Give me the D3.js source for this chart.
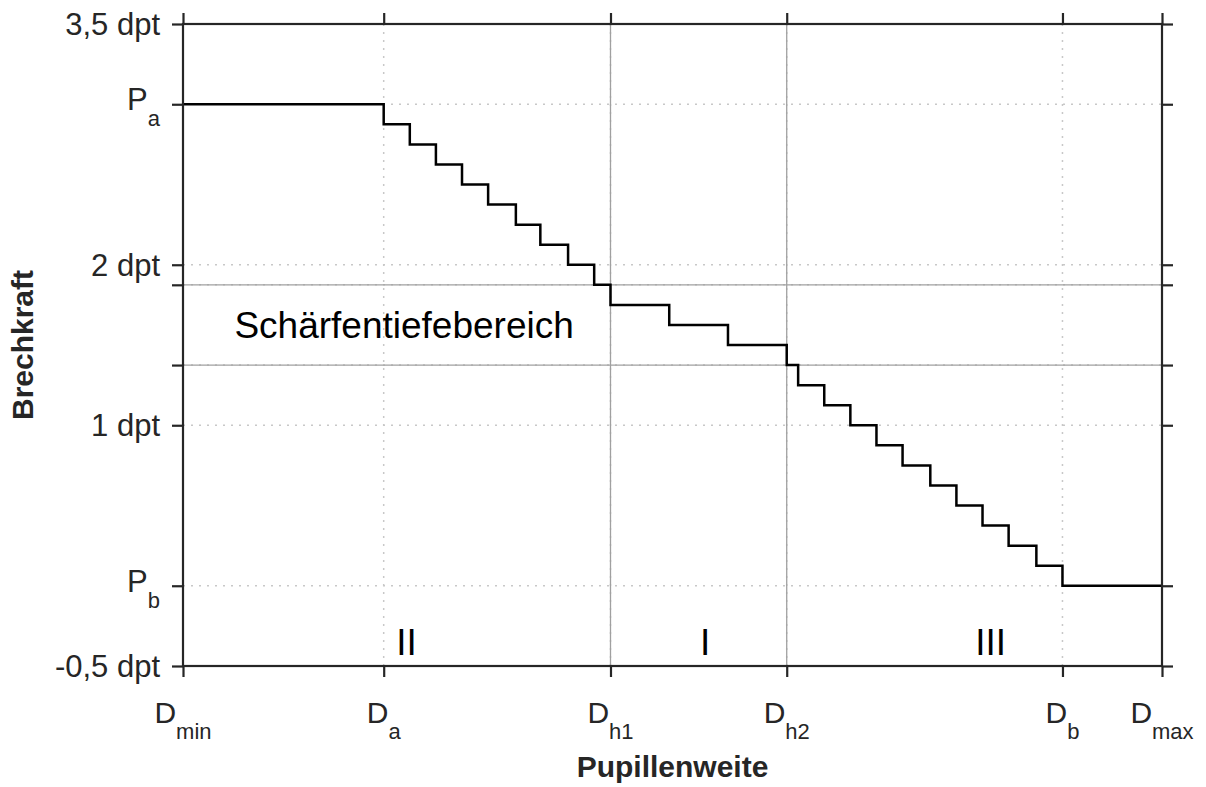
<!DOCTYPE html>
<html>
<head>
<meta charset="utf-8">
<script src="https://cdn.jsdelivr.net/npm/d3@7"></script>
<style>
  html, body { margin: 0; padding: 0; background: #ffffff; }
  svg { display: block; font-family: "Liberation Sans", Arial, Helvetica, sans-serif; }
</style>
</head>
<body>
<svg id="chart" width="1206" height="787"></svg>
<script>
// Pupil diameter (mm) at which the refractive power switches to the next level
const stepPupil = [2.00, 3.23, 3.39, 3.55, 3.71, 3.87, 4.04, 4.19, 4.36, 4.52,
                   4.62, 4.98, 5.34, 5.70, 5.77, 5.93, 6.09, 6.25, 6.41, 6.58,
                   6.74, 6.90, 7.06, 7.23, 7.39, 8.00];
// Refractive power (dpt) held from each switching point on
const stepPower = [3.000, 2.875, 2.750, 2.625, 2.500, 2.375, 2.250, 2.125, 2.000, 1.875,
                   1.750, 1.625, 1.500, 1.375, 1.250, 1.125, 1.000, 0.875, 0.750, 0.625,
                   0.500, 0.375, 0.250, 0.125, 0.000, 0.000];

// x axis ticks: Dmin, Da, Dh1, Dh2, Db, Dmax
const xTickValues = [2.00, 3.23, 4.62, 5.70, 7.39, 8.00];
const xTickMain   = ["D", "D", "D", "D", "D", "D"];
const xTickSub    = ["min", "a", "h1", "h2", "b", "max"];

// y axis ticks
const yTickValues = [-0.5, 0, 1, 1.375, 1.875, 2, 3, 3.5];
const yTickMain   = ["-0,5 dpt", "P", "1 dpt", "", "", "2 dpt", "P", "3,5 dpt"];
const yTickSub    = ["", "b", "", "", "", "", "a", ""];

// depth-of-field band (dpt) and hyperfocal pupil limits (mm)
const bandPower = [1.375, 1.875];
const bandPupil = [4.62, 5.70];

// region labels
const regionNames = ["II", "I", "III"];
const regionPupil = [3.37, 5.20, 6.95];
const regionPower = -0.35;

const svg = d3.select("#chart");
const margin = { left: 183, top: 24, right: 44, bottom: 121 };
const W = 1206 - margin.left - margin.right;
const H = 787 - margin.top - margin.bottom;

const x = d3.scaleLinear().domain([2, 8]).range([0, W]);
const y = d3.scaleLinear().domain([-0.5, 3.5]).range([H, 0]);

const g = svg.append("g").attr("transform", `translate(${margin.left},${margin.top})`);

const axisColor = "#262626";

// dotted grid at every tick
g.append("g").selectAll("line").data(xTickValues).join("line")
  .attr("x1", d => x(d)).attr("x2", d => x(d))
  .attr("y1", 0).attr("y2", H)
  .attr("stroke", "#c8c8c8").attr("stroke-width", 1.5)
  .attr("stroke-dasharray", "2 6");
g.append("g").selectAll("line").data(yTickValues).join("line")
  .attr("x1", 0).attr("x2", W)
  .attr("y1", d => y(d)).attr("y2", d => y(d))
  .attr("stroke", "#c8c8c8").attr("stroke-width", 1.5)
  .attr("stroke-dasharray", "2 6");

// solid reference lines of the depth-of-field band
g.append("g").selectAll("line").data(bandPower).join("line")
  .attr("x1", 0).attr("x2", W)
  .attr("y1", d => y(d)).attr("y2", d => y(d))
  .attr("stroke", "#a0a0a0").attr("stroke-width", 1.3);
g.append("g").selectAll("line").data(bandPupil).join("line")
  .attr("x1", d => x(d)).attr("x2", d => x(d))
  .attr("y1", 0).attr("y2", H)
  .attr("stroke", "#a0a0a0").attr("stroke-width", 1.3);

// stepped refractive power curve
const pts = stepPupil.map((p, i) => [p, stepPower[i]]);
g.append("path")
  .datum(pts)
  .attr("fill", "none")
  .attr("stroke", "#000000")
  .attr("stroke-width", 2.5)
  .attr("stroke-linejoin", "miter")
  .attr("d", d3.line().x(d => x(d[0])).y(d => y(d[1])).curve(d3.curveStepAfter));

// axes box with outward ticks on all four sides
const tickLen = 11;
const axBottom = d3.axisBottom(x).tickValues(xTickValues).tickSize(tickLen).tickFormat("");
const axTop = d3.axisTop(x).tickValues(xTickValues).tickSize(tickLen).tickFormat("");
const axLeft = d3.axisLeft(y).tickValues(yTickValues).tickSize(tickLen).tickFormat("");
const axRight = d3.axisRight(y).tickValues(yTickValues).tickSize(tickLen).tickFormat("");

function styleAxis(sel) {
  sel.selectAll("path.domain").attr("stroke", axisColor).attr("stroke-width", 2.2);
  sel.selectAll(".tick line").attr("stroke", axisColor).attr("stroke-width", 2.2);
}
g.append("g").attr("transform", `translate(0,${H})`).call(axBottom).call(styleAxis);
g.append("g").call(axTop).call(styleAxis);
g.append("g").call(axLeft).call(styleAxis);
g.append("g").attr("transform", `translate(${W},0)`).call(axRight).call(styleAxis);
g.selectAll("path.domain").attr("d", null);
g.append("rect")
  .attr("x", 0).attr("y", 0).attr("width", W).attr("height", H)
  .attr("fill", "none").attr("stroke", axisColor).attr("stroke-width", 2.2);

// y tick labels
yTickValues.forEach((v, i) => {
  if (!yTickMain[i]) return;
  const hasSub = yTickSub[i] !== "";
  const t = g.append("text")
    .attr("x", -23)
    .attr("y", y(v) + (hasSub ? 6 : 11))
    .attr("text-anchor", "end")
    .attr("fill", axisColor)
    .attr("font-size", 31);
  t.append("tspan").text(yTickMain[i]);
  if (hasSub) {
    t.append("tspan").attr("font-size", 22).attr("dy", 16).text(yTickSub[i]);
  }
});

// x tick labels
xTickValues.forEach((v, i) => {
  const t = g.append("text")
    .attr("x", x(v))
    .attr("y", H + 57)
    .attr("text-anchor", "middle")
    .attr("fill", axisColor)
    .attr("font-size", 30);
  t.append("tspan").text(xTickMain[i]);
  t.append("tspan").attr("font-size", 22).attr("dy", 16).text(xTickSub[i]);
});

// axis titles
g.append("text")
  .attr("x", W / 2).attr("y", H + 111)
  .attr("text-anchor", "middle")
  .attr("font-weight", "bold")
  .attr("font-size", 30)
  .attr("fill", axisColor)
  .text("Pupillenweite");
svg.append("text")
  .attr("transform", "translate(33,345) rotate(-90)")
  .attr("text-anchor", "middle")
  .attr("font-weight", "bold")
  .attr("font-size", 30)
  .attr("fill", axisColor)
  .text("Brechkraft");

// annotations
g.append("text")
  .attr("x", x(3.355)).attr("y", y(1.625) + 13)
  .attr("text-anchor", "middle")
  .attr("font-size", 37)
  .attr("fill", "#000000")
  .text("Schärfentiefebereich");

g.append("g").selectAll("text").data(regionNames).join("text")
  .attr("x", (d, i) => x(regionPupil[i]))
  .attr("y", y(regionPower) + 13)
  .attr("text-anchor", "middle")
  .attr("font-size", 37)
  .attr("fill", "#000000")
  .text(d => d);
</script>
</body>
</html>
